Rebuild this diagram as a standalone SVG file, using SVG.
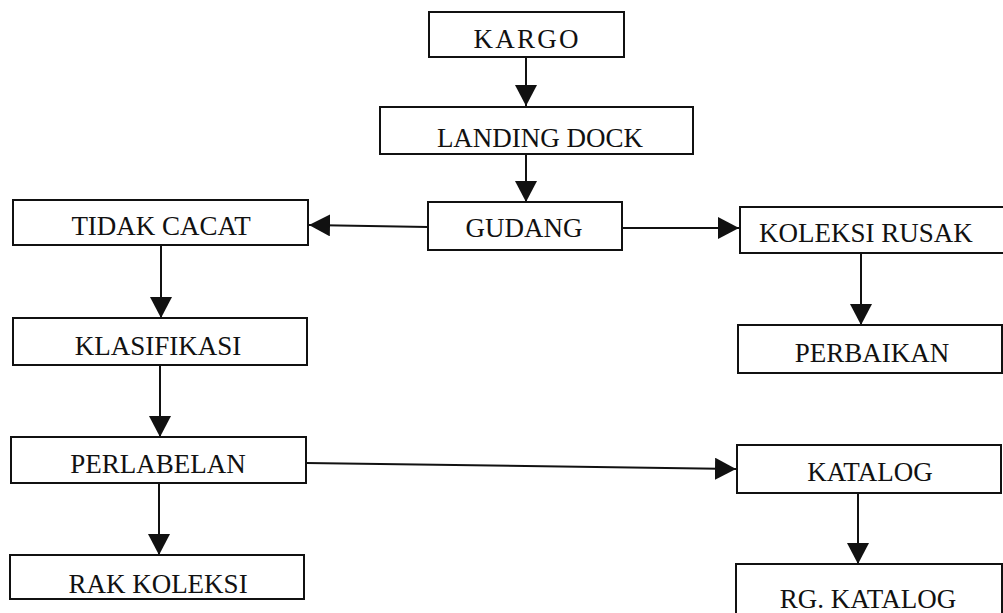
<svg xmlns="http://www.w3.org/2000/svg" width="1003" height="613" viewBox="0 0 1003 613">
<defs>
<style>
.box{fill:#fff;stroke:#111;stroke-width:2}
.lbl{font-family:"Liberation Serif","Times New Roman",serif;font-size:27px;fill:#111;text-anchor:middle}
.con{stroke:#111;stroke-width:2;fill:none;marker-end:url(#ah)}
</style>
<marker id="ah" markerUnits="userSpaceOnUse" markerWidth="22" markerHeight="24" refX="21" refY="11" orient="auto">
<path d="M0,0 L21,11 L0,22 Z" fill="#111"/>
</marker>
</defs>
<rect width="1003" height="613" fill="#fff"/>
<g id="connectors">
<line class="con" x1="526" y1="57" x2="526" y2="106"/>
<line class="con" x1="526" y1="153" x2="526" y2="202"/>
<line class="con" x1="428" y1="227" x2="309" y2="225"/>
<line class="con" x1="621" y1="228" x2="739" y2="228"/>
<line class="con" x1="161" y1="245" x2="161" y2="318"/>
<line class="con" x1="160" y1="365" x2="160" y2="437"/>
<line class="con" x1="159" y1="483" x2="159" y2="555"/>
<line class="con" x1="306" y1="463" x2="736" y2="469"/>
<line class="con" x1="861" y1="253" x2="861" y2="325"/>
<line class="con" x1="858" y1="493" x2="858" y2="564"/>
</g>
<g id="kargo"><rect class="box" x="429" y="12" width="195" height="45"/><text class="lbl" x="526" y="48" textLength="105">KARGO</text></g>
<g id="landing-dock"><rect class="box" x="380" y="107" width="313" height="47"/><text class="lbl" x="540" y="147">LANDING DOCK</text></g>
<g id="gudang"><rect class="box" x="428" y="202" width="194" height="48"/><text class="lbl" x="524" y="237">GUDANG</text></g>
<g id="tidak-cacat"><rect class="box" x="13" y="200" width="295" height="45"/><text class="lbl" x="161" y="235">TIDAK CACAT</text></g>
<g id="klasifikasi"><rect class="box" x="13" y="318" width="294" height="47"/><text class="lbl" x="158" y="355">KLASIFIKASI</text></g>
<g id="perlabelan"><rect class="box" x="11" y="437" width="295" height="46"/><text class="lbl" x="158" y="473">PERLABELAN</text></g>
<g id="rak-koleksi"><rect class="box" x="10" y="555" width="294" height="44"/><text class="lbl" x="158" y="593">RAK KOLEKSI</text></g>
<g id="koleksi-rusak"><rect class="box" x="740" y="207" width="275" height="46"/><text class="lbl" x="866" y="242">KOLEKSI RUSAK</text></g>
<g id="perbaikan"><rect class="box" x="738" y="325" width="264" height="48"/><text class="lbl" x="872" y="362">PERBAIKAN</text></g>
<g id="katalog"><rect class="box" x="737" y="445" width="264" height="48"/><text class="lbl" x="870" y="481">KATALOG</text></g>
<g id="rg-katalog"><rect class="box" x="736" y="564" width="266" height="60"/><text class="lbl" x="868" y="608">RG. KATALOG</text></g>
</svg>
